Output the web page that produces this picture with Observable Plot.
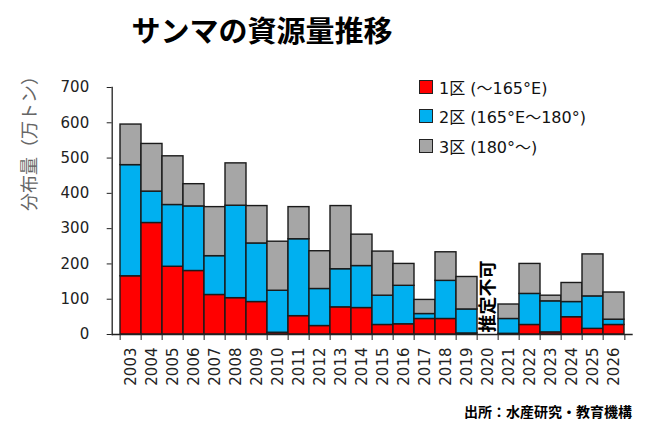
<!DOCTYPE html>
<html><head><meta charset="utf-8">
<script src="https://cdn.jsdelivr.net/npm/d3@7"></script>
<script src="https://cdn.jsdelivr.net/npm/@observablehq/plot@0.6"></script>
<style>
body{margin:0;background:#fff;}
#wrap{position:relative;width:650px;height:430px;overflow:hidden;font-family:"DejaVu Sans","Noto Sans CJK JP",sans-serif;}
#wrap svg{position:absolute;left:0;top:0;}
.title{position:absolute;left:0;width:524px;top:9px;text-align:center;font-family:"Noto Sans CJK JP",sans-serif;font-weight:bold;font-size:29px;color:#000;line-height:40px;}
.legend{position:absolute;left:419px;top:72px;font-size:16px;color:#111;}
.legend .row{display:flex;align-items:center;height:29.5px;}
.legend .sw{width:12px;height:12px;border:1.5px solid #222;margin-right:6px;box-sizing:content-box;}
.source{position:absolute;right:18px;top:401px;font-family:"Noto Sans CJK JP",sans-serif;font-weight:bold;font-size:14px;color:#000;}
</style></head>
<body><div id="wrap"></div>
<script>
const years = ["2003","2004","2005","2006","2007","2008","2009","2010","2011","2012","2013","2014","2015","2016","2017","2018","2019","2020","2021","2022","2023","2024","2025","2026"];
const zone1 = [165,316,192,180,112,103,92,5,52,24,77,75,27,29,44,44,3,null,2,27,6,49,16,27];
const zone2 = [315,89,175,183,110,262,166,119,218,105,108,119,83,109,14,108,68,null,42,88,88,43,92,15];
const zone3 = [115,135,138,63,139,120,106,139,91,107,179,89,125,62,40,81,92,null,41,85,16,54,119,77];
const zoneNames = ["1区 (～165°E)","2区 (165°E～180°)","3区 (180°～)"];
const zoneColors = ["#FF0000","#00B0F0","#A6A6A6"];
const yTicks = [0,100,200,300,400,500,600,700];
const title = "サンマの資源量推移";
const yLabel = "分布量（万トン）";
const source = "出所：水産研究・教育機構";
const noEstimateYear = "2020";
const noEstimateText = "推定不可";

const series = [zone1, zone2, zone3];
const data = [];
years.forEach((y, i) => {
  series.forEach((s, k) => {
    if (s[i] != null) data.push({year: y, zone: zoneNames[k], value: s[i]});
  });
});

const W = 650, H = 430, mL = 111.7, mR = 17.3, mT = 87, mB = 96;
const bw = (W - mL - mR) / years.length;

const chart = Plot.plot({
  width: W, height: H,
  marginLeft: mL, marginRight: mR, marginTop: mT, marginBottom: mB,
  style: {fontFamily: '"DejaVu Sans","Noto Sans CJK JP",sans-serif', background: "transparent"},
  x: {type: "band", domain: years, padding: 0, align: 0.5},
  y: {domain: [0, 700]},
  color: {domain: zoneNames, range: zoneColors},
  marks: [
    Plot.barY(data, {x: "year", y: "value", fill: "zone", order: zoneNames, stroke: "#1a1a1a", strokeWidth: 1.4, inset: 0}),
    Plot.axisY({ticks: yTicks, tickSize: 5, tickPadding: 18, fontSize: 15, color: "#222", label: null, stroke: "#222"}),
    Plot.axisX({ticks: years, tickSize: 0, tickPadding: 13, tickRotate: -90, fontSize: 15, color: "#222", label: null}),
    Plot.axisX({ticks: years, tickSize: 6, tickFormat: () => "", dx: -bw/2, label: null, stroke: "#222"}),
    Plot.axisX({ticks: [years[years.length-1]], tickSize: 6, tickFormat: () => "", dx: bw/2, label: null, stroke: "#222"}),
    Plot.frame({anchor: "left", stroke: "#222", strokeWidth: 1.3}),
    Plot.ruleY([0], {stroke: "#222", strokeWidth: 1.3}),
    Plot.text([yLabel], {frameAnchor: "left", dx: -82, rotate: -90, text: d => d, fontSize: 18, fill: "#666", fontFamily: '"Noto Sans CJK JP",sans-serif'}),
    Plot.text([noEstimateYear], {x: d => d, y: 0, text: () => noEstimateText, rotate: -90, textAnchor: "start", dx: 0, dy: -2, lineAnchor: "middle", fontSize: 18, fontWeight: "bold", fill: "#000", fontFamily: '"Noto Sans CJK JP",sans-serif'})
  ]
});

const wrap = document.getElementById("wrap");
wrap.appendChild(chart);
const t = document.createElement("div"); t.className = "title"; t.textContent = title; wrap.appendChild(t);
const lg = document.createElement("div"); lg.className = "legend";
zoneNames.forEach((n, k) => {
  const r = document.createElement("div"); r.className = "row";
  const sw = document.createElement("span"); sw.className = "sw"; sw.style.background = zoneColors[k];
  const tx = document.createElement("span"); tx.textContent = n;
  r.appendChild(sw); r.appendChild(tx); lg.appendChild(r);
});
wrap.appendChild(lg);
const s = document.createElement("div"); s.className = "source"; s.textContent = source; wrap.appendChild(s);
</script></body></html>
